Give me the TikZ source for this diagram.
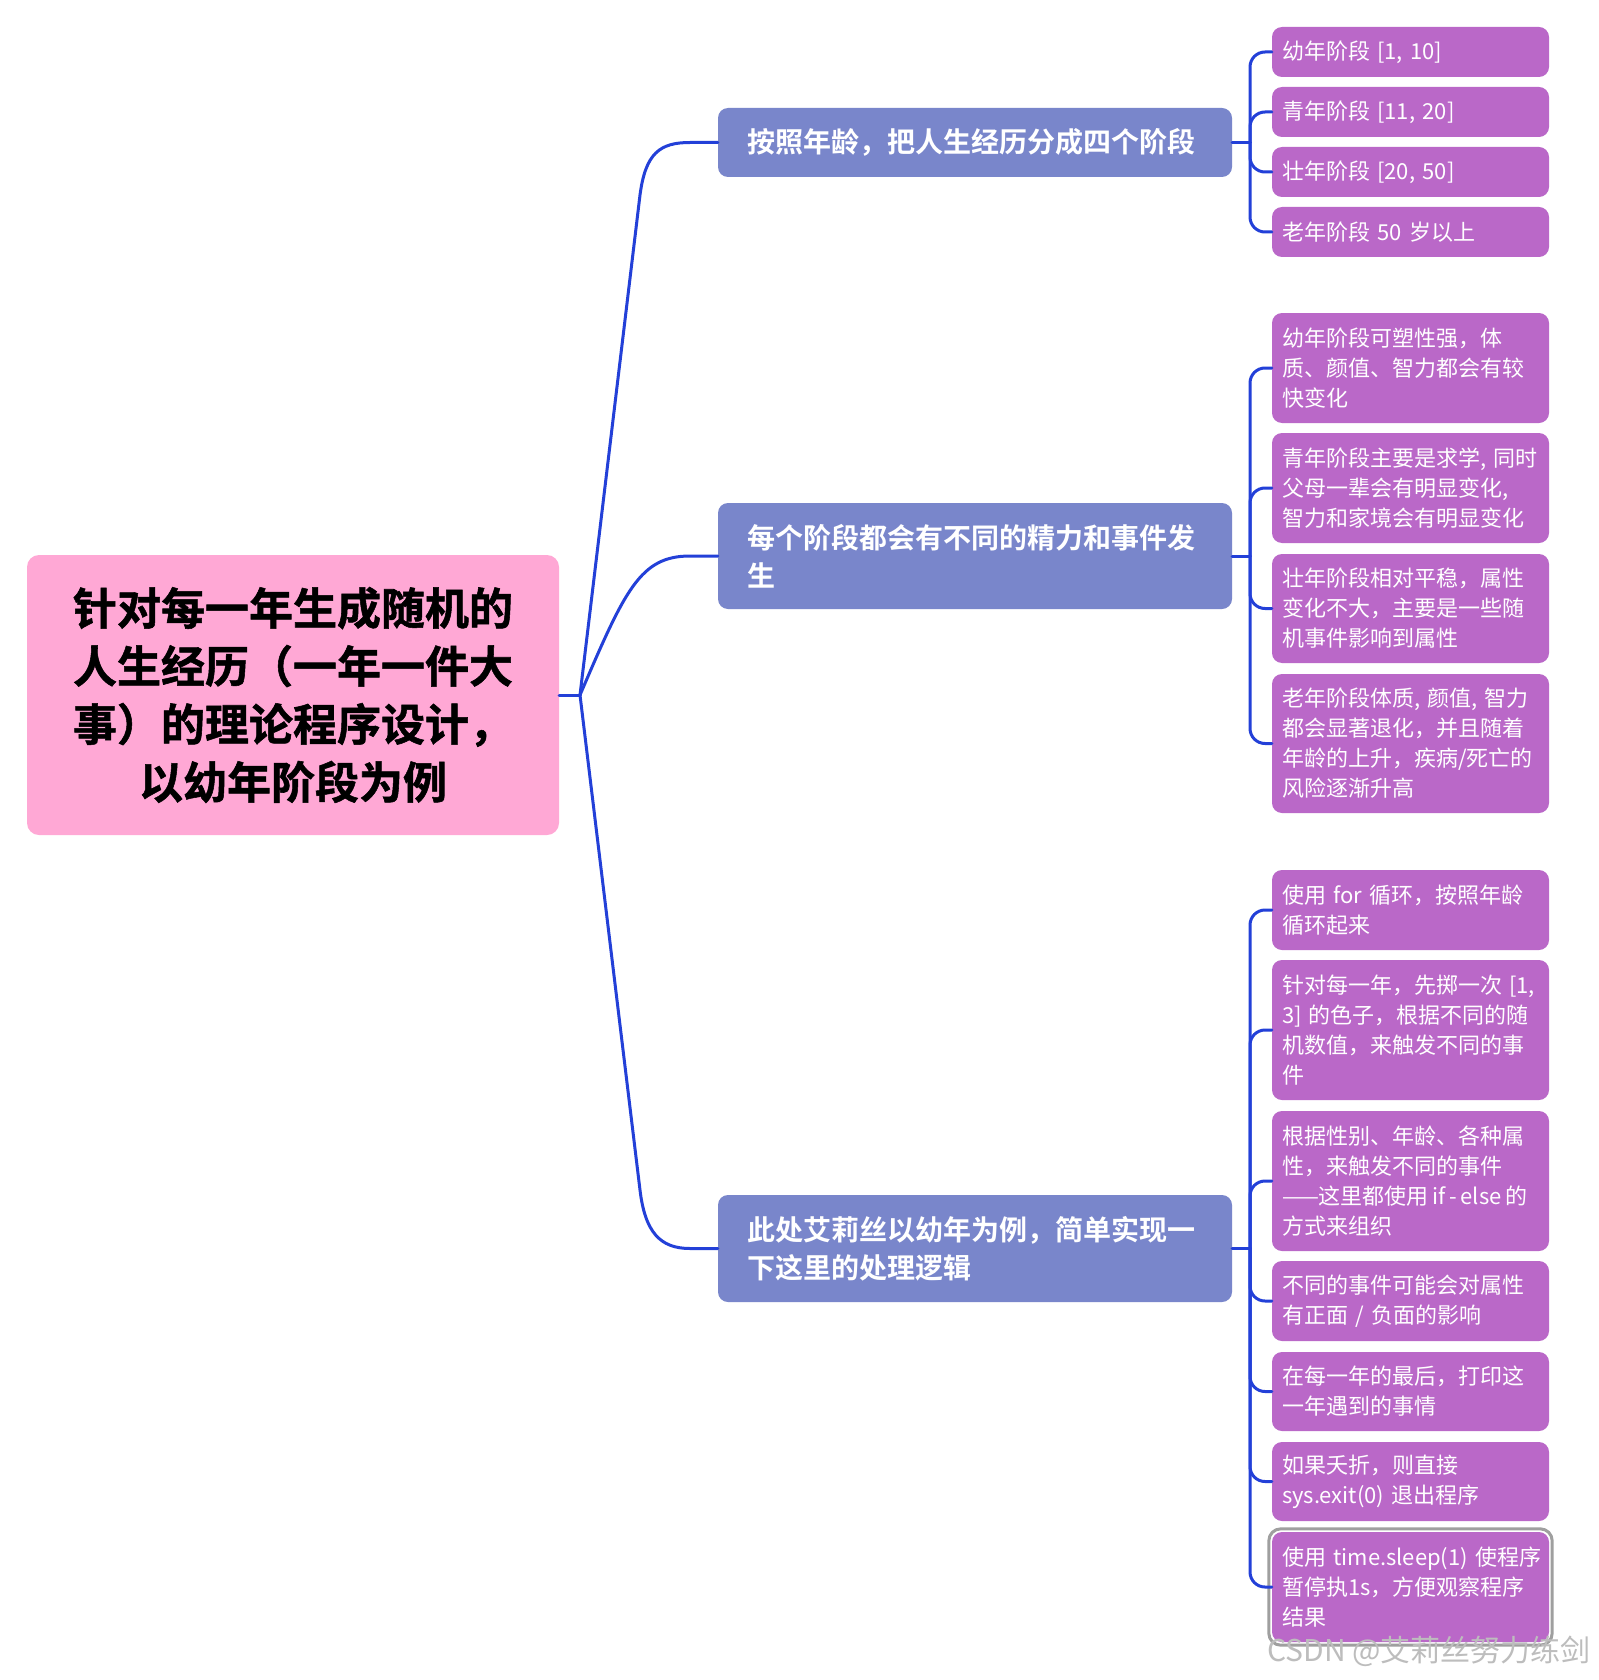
\documentclass[tikz,border=0pt]{standalone}
\usepackage{fontspec}
\setmainfont{Noto Sans CJK SC}[BoldFont={Noto Sans CJK SC Bold}]
\usetikzlibrary{fit}
\exhyphenpenalty=10000
\hyphenpenalty=10000
\definecolor{conncol}{HTML}{2340D8}
\definecolor{purp}{HTML}{BA68C8}
\definecolor{blu}{HTML}{7986CB}
\definecolor{pnk}{HTML}{FFA8D5}
\definecolor{wmcol}{HTML}{BDBDBD}
\tikzset{
  cbox/.style={fill=purp, rounded corners=10pt, text=white,
    font=\fontsize{22}{30}\selectfont, text width=257pt, inner xsep=10pt,
    inner ysep=0pt, align=left},
  bbox/.style={fill=blu, rounded corners=10pt, text=white,
    font=\bfseries\fontsize{28}{38}\selectfont, text width=456pt, inner xsep=29pt,
    inner ysep=0pt, align=left},
  rootbox/.style={fill=pnk, rounded corners=12pt, text=black,
    font=\bfseries\addfontfeature{FakeBold=1.2}\fontsize{44}{58}\selectfont, text width=492pt, inner xsep=20pt,
    inner ysep=0pt, align=center},
  link/.style={draw=conncol, line width=3pt, line cap=round, line join=round},
}
\begin{document}
\begin{tikzpicture}[x=1pt,y=-1pt]
\useasboundingbox (0,0) rectangle (1598,1680);
\fill[white] (0,0) rectangle (1598,1680);

% root
\node[rootbox, minimum height=280pt] (root) at (293,695)
  {针对每一年生成随机的\\人生经历（一年一件大\\事）的理论程序设计，\\以幼年阶段为例};

% level 1
\node[bbox, minimum height=69pt] (b1) at (975,142.5) {按照年龄，把人生经历分成四个阶段};
\node[bbox, minimum height=106pt] (b2) at (975,556) {每个阶段都会有不同的精力和事件发\\生};
\node[bbox, minimum height=107pt] (b3) at (975,1248.5) {此处艾莉丝以幼年为例，简单实现一\\下这里的处理逻辑};

% group 1
\node[cbox, minimum height=50pt] (c1) at (1410.5,52) {幼年阶段~[1,~10]};
\node[cbox, minimum height=50pt] (c2) at (1410.5,112) {青年阶段~[11,~20]};
\node[cbox, minimum height=50pt] (c3) at (1410.5,172) {壮年阶段~[20,~50]};
\node[cbox, minimum height=50pt] (c4) at (1410.5,232) {老年阶段~50~岁以上};

% group 2
\node[cbox, minimum height=110pt] (d1) at (1410.5,368) {幼年阶段可塑性强，体\\质、颜值、智力都会有较\\快变化};
\node[cbox, minimum height=110pt] (d2) at (1410.5,488) {青年阶段主要是求学,~同时\\父母一辈会有明显变化,\\智力和家境会有明显变化};
\node[cbox, minimum height=109pt] (d3) at (1410.5,608.5) {壮年阶段相对平稳，属性\\变化不大，主要是一些随\\机事件影响到属性};
\node[cbox, minimum height=139pt] (d4) at (1410.5,743.5) {老年阶段体质,~颜值,~智力\\都会显著退化，并且随着\\年龄的上升，疾病/死亡的\\风险逐渐升高};

% group 3
\node[cbox, minimum height=80pt] (e1) at (1410.5,910) {使用~for~循环，按照年龄\\循环起来};
\node[cbox, minimum height=140pt] (e2) at (1410.5,1030) {针对每一年，先掷一次~[1,\\3]~的色子，根据不同的随\\机数值，来触发不同的事\\件};
\node[cbox, minimum height=140pt] (e3) at (1410.5,1181) {根据性别、年龄、各种属\\性，来触发不同的事件\\\mbox{——这里都使用\,if\,-\,else\,的}\\方式来组织};
\node[cbox, minimum height=80pt] (e4) at (1410.5,1301) {不同的事件可能会对属性\\有正面~/~负面的影响};
\node[cbox, minimum height=79pt] (e5) at (1410.5,1391.5) {在每一年的最后，打印这\\一年遇到的事情};
\node[cbox, minimum height=79pt] (e6) at (1410.5,1481.5) {如果夭折，则直接\\sys.exit(0)~退出程序};
\node[cbox, minimum height=110pt] (e7) at (1410.5,1587) {使用~time.sleep(1)~使程序\\暂停执1s，方便观察程序\\结果};

% selection highlight
\node[draw=gray!75, line width=3pt, rounded corners=12pt, inner sep=3pt, fit=(e7)] (sel) {};

% root connectors
\coordinate (J) at (580,695);
\draw[link] (root.east) -- (J);
\draw[link] (J) -- (640,195) .. controls (645.5,153) and (660,142.5) .. (690,142.5) -- (b1.west);
\draw[link] (J) .. controls (625,590) and (640,556) .. (690,556) -- (b2.west);
\draw[link] (J) -- (640,1190) .. controls (645,1232) and (660,1248.5) .. (690,1248.5) -- (b3.west);

% right trees
\coordinate (s1) at (1250,142.5);
\coordinate (s2) at (1250,556);
\coordinate (s3) at (1250,1248.5);
\draw[link] (b1.east) -- (s1);
\draw[link] (b2.east) -- (s2);
\draw[link] (b3.east) -- (s3);
\foreach \c in {c1,c2,c3,c4} \draw[link, rounded corners=15pt] (s1) |- (\c.west);
\foreach \c in {d1,d2,d3,d4} \draw[link, rounded corners=15pt] (s2) |- (\c.west);
\foreach \c in {e1,e2,e3,e4,e5,e6,e7} \draw[link, rounded corners=15pt] (s3) |- (\c.west);

% watermark
\node[anchor=west, text=wmcol, font=\fontsize{30}{30}\selectfont, inner sep=0pt] (wm) at (1267,1651) {CSDN @艾莉丝努力练剑};
\end{tikzpicture}
\end{document}
